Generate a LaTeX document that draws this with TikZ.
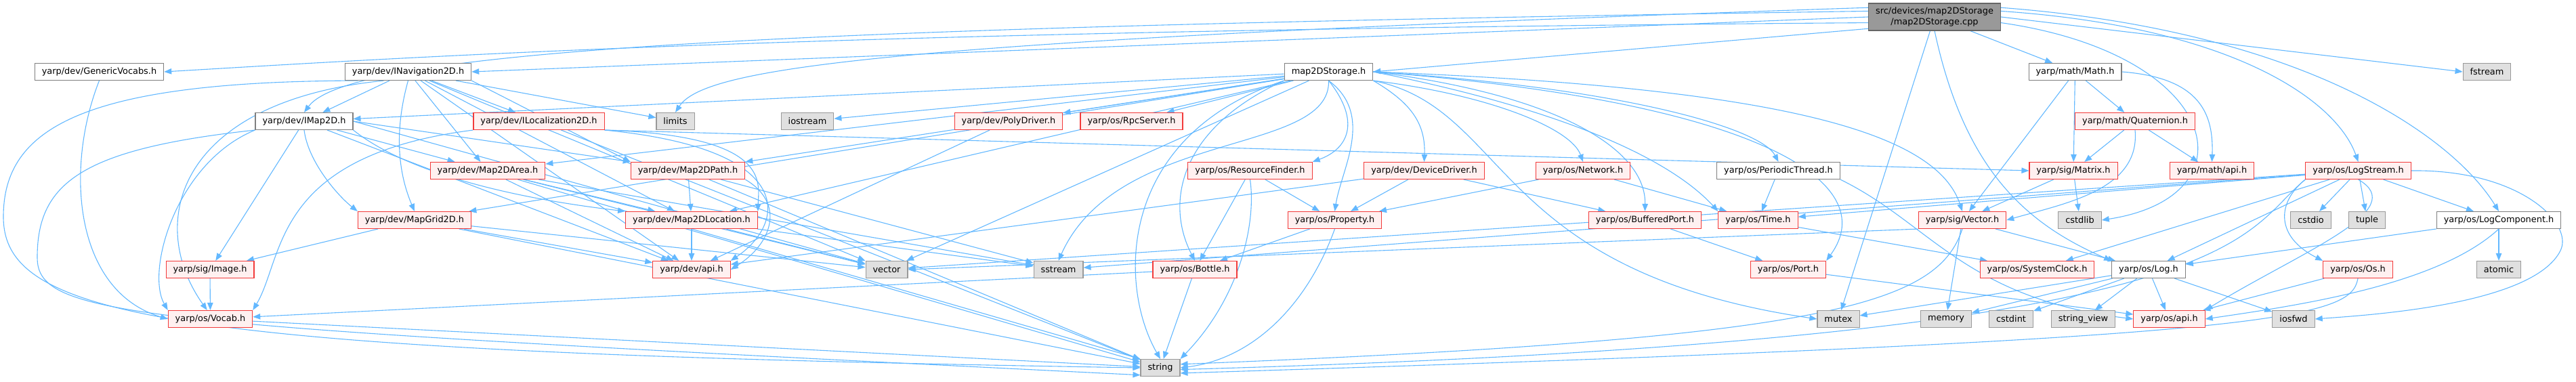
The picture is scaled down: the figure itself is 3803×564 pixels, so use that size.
\documentclass[tikz,border=0pt]{standalone}
\usepackage{fontspec}
\setmainfont{DejaVu Sans}
\usetikzlibrary{arrows.meta, backgrounds}

\definecolor{incblue}{HTML}{63B8FF}
\definecolor{hdrgray}{HTML}{7F7F7F}
\definecolor{truncred}{HTML}{F23A3A}
\definecolor{truncfill}{HTML}{FFF0F0}
\definecolor{sysgray}{HTML}{999999}
\definecolor{sysfill}{HTML}{E0E0E0}
\definecolor{srcfill}{HTML}{999999}

\tikzset{
  hdr/.style={rectangle, draw=hdrgray, fill=white, line width=1.1pt,
    minimum height=25pt, inner xsep=10.5pt, inner ysep=0pt,
    font=\fontsize{12.9}{15.5}\selectfont},
  hdrred/.style={hdr, draw=truncred, fill=truncfill},
  hdrsys/.style={hdr, draw=sysgray, fill=sysfill},
  srcfile/.style={hdr, draw=black!60, fill=srcfill, minimum height=40pt, align=center},
  inc/.style={draw=incblue, line width=1.1pt, -{Triangle[length=11pt,width=8.5pt]}}
}

\begin{document}
\begin{tikzpicture}[x=1pt, y=-1pt]

\useasboundingbox (0,0) rectangle (3803,564);

\node[srcfile] (main)    at (2856,25)  {src/devices/map2DStorage\\/map2DStorage.cpp};

\node[hdr]     (gv)      at (146.5,106)  {yarp/dev/GenericVocabs.h};
\node[hdr]     (inav)    at (602.5,106)  {yarp/dev/INavigation2D.h};
\node[hdr]     (st)      at (1961.5,106) {map2DStorage.h};
\node[hdr]     (mth)     at (3063.5,106) {yarp/math/Math.h};
\node[hdrsys]  (fst)     at (3671.5,106) {fstream};

\node[hdr]     (imap)    at (449,179)    {yarp/dev/IMap2D.h};
\node[hdrred]  (iloc)    at (795.5,179)  {yarp/dev/ILocalization2D.h};
\node[hdrsys]  (lim)     at (997,179)    {limits};
\node[hdrsys]  (ios)     at (1192,179)   {iostream};
\node[hdrred]  (poly)    at (1489,179)   {yarp/dev/PolyDriver.h};
\node[hdrred]  (rpc)     at (1670.5,179) {yarp/os/RpcServer.h};
\node[hdrred]  (quat)    at (3152,179)   {yarp/math/Quaternion.h};

\node[hdrred]  (area)    at (720,252)    {yarp/dev/Map2DArea.h};
\node[hdrred]  (path)    at (1015.5,252) {yarp/dev/Map2DPath.h};
\node[hdrred]  (rf)      at (1845.5,252) {yarp/os/ResourceFinder.h};
\node[hdrred]  (dd)      at (2102.5,252) {yarp/dev/DeviceDriver.h};
\node[hdrred]  (net)     at (2337,252)   {yarp/os/Network.h};
\node[hdr]     (pth)     at (2625.5,252) {yarp/os/PeriodicThread.h};
\node[hdrred]  (mat)     at (3061,252)   {yarp/sig/Matrix.h};
\node[hdrred]  (mapi)    at (3265.5,252) {yarp/math/api.h};
\node[hdrred]  (ls)      at (3481.5,252) {yarp/os/LogStream.h};

\node[hdrred]  (grid)    at (612,325)    {yarp/dev/MapGrid2D.h};
\node[hdrred]  (loc)     at (1021,325)   {yarp/dev/Map2DLocation.h};
\node[hdrred]  (prop)    at (1970.5,325) {yarp/os/Property.h};
\node[hdrred]  (bp)      at (2428.5,325) {yarp/os/BufferedPort.h};
\node[hdrred]  (time)    at (2595.5,325) {yarp/os/Time.h};
\node[hdrred]  (vec)     at (2897,325)   {yarp/sig/Vector.h};
\node[hdrsys]  (cstdlib) at (3070.5,325) {cstdlib};
\node[hdrsys]  (cstdio)  at (3411.5,325) {cstdio};
\node[hdrsys]  (tuple)   at (3494.5,325) {tuple};
\node[hdr]     (lc)      at (3689,325)   {yarp/os/LogComponent.h};

\node[hdrred]  (img)     at (310,398)    {yarp/sig/Image.h};
\node[hdrred]  (dapi)    at (1021,398)   {yarp/dev/api.h};
\node[hdrsys]  (vector)  at (1309,398)   {vector};
\node[hdrsys]  (sstream) at (1562.5,398) {sstream};
\node[hdrred]  (bot)     at (1764,398)   {yarp/os/Bottle.h};
\node[hdrred]  (port)    at (2640,398)   {yarp/os/Port.h};
\node[hdrred]  (clk)     at (3007.5,398) {yarp/os/SystemClock.h};
\node[hdr]     (log)     at (3172,398)   {yarp/os/Log.h};
\node[hdrred]  (os)      at (3481,398)   {yarp/os/Os.h};
\node[hdrsys]  (atomic)  at (3689,398)   {atomic};

\node[hdrred]  (voc)     at (310.5,471)  {yarp/os/Vocab.h};
\node[hdrsys]  (mutex)   at (2714,471)   {mutex};
\node[hdrsys]  (memory)  at (2873,471)   {memory};
\node[hdrsys]  (cstdint) at (2969,471)   {cstdint};
\node[hdrsys]  (sview)   at (3075.5,471) {string\_view};
\node[hdrred]  (osapi)   at (3202.5,471) {yarp/os/api.h};
\node[hdrsys]  (iosfwd)  at (3386,471)   {iosfwd};

\node[hdrsys]  (string)  at (1713,543)   {string};

\begin{scope}[on background layer]
\begin{scope}[inc]
% the source file
\draw (main.185) .. controls (1200,45) and (600,85) .. (gv.east);
\draw (main.180) -- (inav.east);
\draw (main.175) .. controls (1200,40) and (520,70) .. (imap.north);
\draw (main.190) -- (st.east);
\draw (main.172) .. controls (1300,60) and (1040,100) .. (lim.north);
\draw (main) -- (mth);
\draw (main.5) .. controls (3300,40) and (3450,150) .. (ls.north);
\draw (main.8) .. controls (3400,45) and (3620,200) .. (lc.north);
\draw (main.east) -- (fst.west);
\draw (main) -- (mutex);
\draw (main.south) .. controls (2900,250) and (2990,330) .. (log.north west);
\draw (main.-5) .. controls (3280,80) and (3330,290) .. (cstdlib.east);

% map2DStorage.h
\draw (st) -- (imap);
\draw (st) -- (ios);
\draw (st) -- (poly);
\draw (st) -- (rpc);
\draw (st) -- (area);
\draw (st) -- (path);
\draw (st) -- (grid);
\draw (st) -- (loc);
\draw (st) -- (vector);
\draw (st.south west) .. controls (1650,200) and (1650,420) .. (string.north);
\draw (st.south) .. controls (1965,230) and (1650,190) .. (sstream.north);
\draw (st.south west) .. controls (1740,190) and (1720,300) .. (bot.north);
\draw (st.south) .. controls (2010,180) and (1990,220) .. (rf.north east);
\draw (st.south) .. controls (2030,170) and (1980,250) .. (prop.north);
\draw (st.south east) .. controls (2080,150) and (2105,180) .. (dd.north);
\draw (st.south east) .. controls (2200,140) and (2320,190) .. (net.north);
\draw (st.east) .. controls (2300,140) and (2430,220) .. (bp.north);
\draw (st.east) .. controls (2400,130) and (2600,190) .. (pth.north);
\draw (st.east) .. controls (2350,170) and (2480,250) .. (time.north west);
\draw (st.east) .. controls (2600,150) and (2780,270) .. (port.north east);
\draw (st.east) .. controls (2650,130) and (2860,200) .. (vec.north);
\draw (st.south east) .. controls (2230,160) and (2200,400) .. (mutex.west);

% INavigation2D.h, IMap2D.h, ILocalization2D.h
\draw (inav) -- (imap);
\draw (inav) -- (iloc);
\draw (inav) -- (lim);
\draw (inav) -- (area);
\draw (inav.south east) -- (path.north west);
\draw (inav) -- (loc);
\draw (inav.south) .. controls (580,200) and (590,260) .. (grid.north);
\draw (inav) -- (dapi);
\draw (inav) -- (vector);
\draw (inav.190) .. controls (120,120) and (5,190) .. (5,320) .. controls (5,470) and (250,520) .. (string.west);
\draw (inav.200) .. controls (260,150) and (215,330) .. (voc.110);
\draw (imap) -- (img);
\draw (imap.south west) .. controls (260,240) and (215,400) .. (voc.north west);
\draw (imap.south west) .. controls (120,220) and (55,270) .. (55,380) .. controls (55,470) and (200,480) .. (string.200);
\draw (imap.south) .. controls (455,240) and (500,290) .. (grid.north west);
\draw (imap) -- (dapi);
\draw (imap.south east) .. controls (620,270) and (820,300) .. (loc.north west);
\draw (imap) -- (area);
\draw (imap.east) -- (path.north west);
\draw (imap.east) -- (vector);
\draw (iloc.south west) .. controls (400,230) and (420,380) .. (voc.north east);
\draw (iloc.south east) .. controls (1140,200) and (1120,270) .. (loc.north east);
\draw (iloc.south east) .. controls (1180,220) and (1160,330) .. (dapi.north east);
\draw (iloc) -- (string);
\draw (iloc.south east) -- (mat.west);

% map headers
\draw (area) -- (loc);
\draw (area) -- (dapi);
\draw (area) -- (vector);
\draw (area) -- (sstream);
\draw (area) -- (string);
\draw (path) -- (loc);
\draw (path.south east) .. controls (1160,300) and (1140,360) .. (dapi.east);
\draw (path) -- (string);
\draw (path) -- (sstream);
\draw (loc) -- (dapi);
\draw (loc.south) -- (string.north west);
\draw (loc) -- (sstream);
\draw (loc) -- (vector);
\draw (grid) -- (img);
\draw (grid) -- (dapi);
\draw (grid) -- (string);
\draw (grid) -- (vector);
\draw (img) -- (voc);
\draw (gv.south) .. controls (95,250) and (110,430) .. (voc.west);
\draw (voc) -- (string);

% yarp/os
\draw (bot) -- (string);
\draw (bot) -- (voc);
\draw (prop) -- (bot);
\draw (prop.south) .. controls (1930,450) and (1850,530) .. (string.east);
\draw (rf) -- (bot);
\draw (rf) -- (prop);
\draw (rf.south) .. controls (1855,330) and (1830,440) .. (string.north east);
\draw (dd) -- (prop);
\draw (dd) -- (bp);
\draw (dd) -- (dapi);
\draw (poly) -- (dapi);
\draw (net) -- (prop);
\draw (net) -- (time);
\draw (pth) -- (time);
\draw (pth.south east) .. controls (2850,330) and (2900,440) .. (osapi.west);
\draw (bp) -- (port);
\draw (port) -- (osapi);
\draw (time) -- (clk);

% yarp/math, yarp/sig
\draw (mth) -- (vec);
\draw (mth) -- (mat);
\draw (mth) -- (quat);
\draw (mth.east) .. controls (3250,115) and (3268,170) .. (mapi.north);
\draw (quat) -- (mat);
\draw (quat) -- (mapi);
\draw (quat.south) .. controls (3160,280) and (3050,300) .. (vec.east);
\draw (mat) -- (vec);
\draw (mat) -- (cstdlib);
\draw (vec) -- (memory);
\draw (vec) -- (log);
\draw (vec.south west) -- (vector.east);
\draw (vec.south) .. controls (2860,450) and (2700,500) .. (string.10);

% logging
\draw (ls) -- (cstdio);
\draw (ls) -- (tuple);
\draw (ls) -- (lc);
\draw (ls) -- (log);
\draw (ls) -- (time);
\draw (ls) -- (clk);
\draw (ls) -- (vector);
\draw (ls) -- (sstream);
\draw (ls.south west) .. controls (3360,300) and (3360,350) .. (os.north west);
\draw (ls.south) .. controls (3560,310) and (3400,370) .. (osapi.north east);
\draw (ls.east) .. controls (3720,250) and (3800,330) .. (3780,370) .. controls (3740,450) and (3500,465) .. (iosfwd.east);
\draw (ls.south west) .. controls (3300,350) and (3330,500) .. (string.-5);
\draw (lc) -- (log);
\draw (lc.south) .. controls (3600,420) and (3400,450) .. (osapi.east);
\draw (lc) -- (atomic);
\draw (os) -- (osapi);
\draw (os.south) .. controls (3470,470) and (3380,500) .. (string.-15);
\draw (log) -- (mutex);
\draw (log) -- (memory);
\draw (log) -- (cstdint);
\draw (log) -- (sview);
\draw (log) -- (osapi);
\draw (log) -- (iosfwd);
\end{scope}
\end{scope}

\end{tikzpicture}
\end{document}
